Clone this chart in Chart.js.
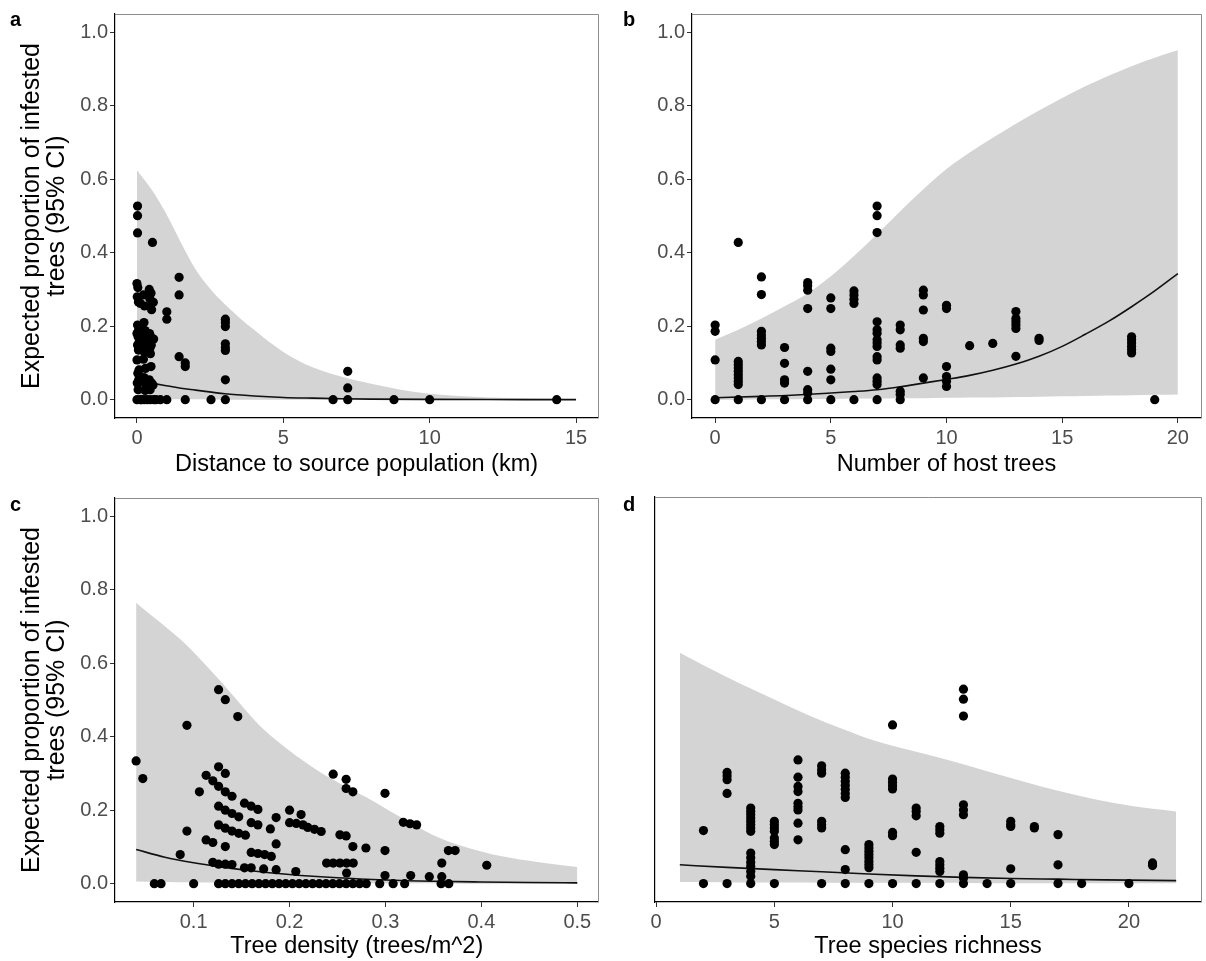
<!DOCTYPE html>
<html><head><meta charset="utf-8">
<script src="https://cdn.jsdelivr.net/npm/chart.js@4/dist/chart.umd.min.js"></script>
<style>
html,body{margin:0;padding:0;background:#fff;overflow:hidden;width:1206px;height:961px;}
canvas{position:absolute;}
</style></head><body>
<canvas id="pa" width="603" height="480" style="left:0;top:0"></canvas>
<canvas id="pb" width="603" height="480" style="left:603px;top:0"></canvas>
<canvas id="pc" width="603" height="477" style="left:0;top:484px"></canvas>
<canvas id="pd" width="603" height="477" style="left:603px;top:484px"></canvas>
<script>
// ---------- shared ----------
const yTicks = [0, 0.2, 0.4, 0.6, 0.8, 1.0];
const yTitle = ['Expected proportion of infested', 'trees (95% CI)'];

// ---------- panel a: distance to source population ----------
const aTicksX = [0, 5, 10, 15];
const aDist = [0.02,0.02,0.02,0.53,
  0.00,0.03,0.01,0.05,0.02,0.06,0.00,0.04,0.08,0.02,0.05,0.00,0.07,0.03,0.06,0.01,0.04,0.00,
  0.12,0.10,0.14,0.11,0.12,
  0.22,0.26,0.24,0.28,0.23,0.27,0.25,0.22,0.29,0.24,0.26,0.28,0.25,
  0.42,0.48,0.44,0.46,0.50,0.43,0.47,0.45,0.49,0.44,0.46,0.48,0.42,0.50,0.45,0.45,
  0.56,0.57,0.55,0.58,
  0.15,0.35,0.65,0.8,1.02,1.65,2.53,3.02,6.7,7.2,8.78,10.0,14.34,
  1.02,1.02,1.44,1.44,1.44,1.65,1.65,3.02,3.02,3.02,3.02,3.02,3.02,3.02,7.2,7.2];
const aProp = [0.527,0.501,0.454,0.428,
  0.316,0.305,0.280,0.266,0.203,0.191,0.180,0.171,0.158,0.149,0.135,0.108,0.081,0.072,0.054,0.045,0.027,0,
  0.262,0.190,0.165,0.050,0,
  0.285,0.255,0.210,0.188,0.170,0.150,0.130,0.110,0.085,0.060,0.045,0.025,0,
  0.300,0.290,0.275,0.255,0.245,0.180,0.171,0.158,0.149,0.140,0.125,0.090,0.054,0.045,0.027,0,
  0.265,0.165,0.040,0,
  0,0,0,0,0,0,0,0,0,0,0,0,0,
  0.239,0.219,0.333,0.285,0.117,0.100,0.090,0.219,0.210,0.199,0.152,0.141,0.134,0.054,0.077,0.032];
const aFitX = [0, 0.5, 1, 1.5, 2, 3, 4, 5, 6, 7, 8, 10, 12, 15];
const aFitY = [0.052, 0.045, 0.038, 0.031, 0.026, 0.016, 0.010, 0.006, 0.004, 0.0025, 0.0015, 0.0006, 0.0002, 0.0001];
const aBandX = [0, 0.5, 1, 1.5, 2, 2.5, 3, 4, 5, 6, 7, 8, 9, 10, 11, 12, 15];
const aBandHi = [0.625, 0.572, 0.506, 0.428, 0.355, 0.302, 0.260, 0.190, 0.130, 0.088, 0.062, 0.043, 0.027, 0.016, 0.010, 0.006, 0.002];
const aBandLo = [0.002, 0.002, 0.001, 0.001, 0.001, 0.001, 0, 0, 0, 0, 0, 0, 0, 0, 0, 0, 0];

// ---------- panel b: number of host trees ----------
const bTicksX = [0, 5, 10, 15, 20];
const bHosts = [0,0,0,0,
  1,1,1,1,1,1,1,1,1,1,
  2,2,2,2,2,2,2,2,
  3,3,3,3,3,
  4,4,4,4,4,4,4,4,
  5,5,5,5,5,5,5,
  6,6,6,6,6,
  7,7,7,7,7,7,7,7,7,7,7,7,7,7,7,
  8,8,8,8,8,8,8,
  9,9,9,9,9,9,
  10,10,10,10,10,10,
  11,12,13,13,13,13,13,13,14,14,
  18,18,18,18,18,18,19];
const bProp = [0.203,0.186,0.108,0,
  0.428,0.104,0.095,0.086,0.077,0.068,0.059,0.050,0.041,0,
  0.334,0.286,0.186,0.176,0.167,0.158,0.149,0,
  0.142,0.099,0.054,0.045,0,
  0.319,0.310,0.298,0.248,0.077,0.027,0.018,0,
  0.277,0.248,0.140,0.131,0.083,0.054,0,
  0.296,0.285,0.273,0.262,0,
  0.527,0.501,0.455,0.212,0.190,0.181,0.163,0.154,0.145,0.117,0.108,0.059,0.050,0.041,0,
  0.203,0.190,0.149,0.140,0.023,0.014,0,
  0.298,0.285,0.244,0.167,0.158,0.059,
  0.257,0.248,0.090,0.063,0.050,0.036,
  0.147,0.153,0.240,0.221,0.212,0.203,0.194,0.118,0.167,0.161,
  0.171,0.163,0.154,0.145,0.136,0.127,0];
const bFitX = [0, 2, 4, 5, 6, 7, 8, 9, 10, 11, 12, 13, 14, 15, 16, 17, 18, 19, 20];
const bFitY = [0.005, 0.009, 0.014, 0.018, 0.022, 0.027, 0.035, 0.045, 0.055, 0.066, 0.080, 0.097, 0.118, 0.145, 0.178, 0.213, 0.253, 0.296, 0.343];
const bBandX = [0, 1, 2, 3, 4, 5, 6, 7, 8, 9, 10, 11, 12, 13, 14, 15, 16, 17, 18, 19, 20];
const bBandHi = [0.163, 0.190, 0.221, 0.254, 0.289, 0.336, 0.391, 0.451, 0.513, 0.573, 0.628, 0.673, 0.713, 0.751, 0.787, 0.821, 0.853, 0.882, 0.908, 0.931, 0.951];
const bBandLo = [0, 0, 0.001, 0.001, 0.002, 0.002, 0.003, 0.003, 0.004, 0.004, 0.005, 0.006, 0.006, 0.007, 0.008, 0.009, 0.010, 0.011, 0.012, 0.013, 0.014];

// ---------- panel c: tree density ----------
const cTicksX = [0.1, 0.2, 0.3, 0.4, 0.5];
const cDens = [0.040,0.047,0.126,0.133,0.146,0.093,
  0.126,0.133,0.113,0.120,0.126,0.133,0.140,0.106,
  0.126,0.133,0.140,0.147,0.153,0.160,0.167,
  0.200,0.212,0.186,0.200,0.207,0.214,0.219,0.226,0.233,
  0.126,0.133,0.140,0.147,0.154,0.160,0.167,0.180,
  0.093,0.113,0.120,0.133,0.186,
  0.086,0.160,0.167,0.174,0.181,
  0.120,0.126,0.133,0.140,0.153,0.160,0.173,0.186,0.2065,
  0.2455,0.259,0.259,0.266,0.2995,
  0.3186,0.3256,0.3325,0.2525,0.259,0.266,0.2796,0.2995,0.3656,0.3726,0.3587,0.4056,
  0.2386,0.2455,0.2525,0.2595,0.2664,0.2595,0.2995,0.3263,0.3457,0.3587,
  0.059,0.066,0.100,0.126,0.133,0.140,0.147,0.154,0.161,0.168,0.175,0.182,0.189,0.196,0.203,0.210,
  0.217,0.224,0.231,0.238,0.245,0.252,0.259,0.266,0.273,0.280,0.294,0.308,0.320,0.358,0.366];
const cProp = [0.334,0.286,0.528,0.501,0.455,0.431,
  0.318,0.300,0.295,0.280,0.265,0.250,0.238,0.250,
  0.211,0.200,0.191,0.182,0.219,0.211,0.202,
  0.200,0.188,0.180,0.166,0.164,0.160,0.153,0.148,0.142,
  0.160,0.151,0.143,0.137,0.132,0.166,0.160,0.149,
  0.143,0.119,0.112,0.101,0.108,
  0.079,0.085,0.082,0.079,0.074,
  0.058,0.053,0.053,0.052,0.043,0.043,0.040,0.038,0.033,
  0.298,0.284,0.259,0.250,0.246,
  0.167,0.163,0.160,0.133,0.130,0.101,0.097,0.090,0.090,0.090,0.056,0.050,
  0.056,0.056,0.056,0.056,0.056,0.029,0.022,0.022,0.019,0.019,
  0,0,0,0,0,0,0,0,0,0,0,0,0,0,0,0,
  0,0,0,0,0,0,0,0,0,0,0,0,0,0,0];
const cFitX = [0.04, 0.07, 0.10, 0.13, 0.16, 0.20, 0.25, 0.30, 0.35, 0.40, 0.45, 0.50];
const cFitY = [0.093, 0.072, 0.057, 0.045, 0.035, 0.025, 0.016, 0.010, 0.0065, 0.0045, 0.003, 0.002];
const cBandX = [0.04, 0.06, 0.085, 0.10, 0.126, 0.15, 0.169, 0.20, 0.23, 0.26, 0.28, 0.315, 0.35, 0.384, 0.42, 0.46, 0.50];
const cBandHi = [0.765, 0.722, 0.668, 0.630, 0.557, 0.485, 0.430, 0.362, 0.307, 0.262, 0.235, 0.182, 0.132, 0.099, 0.075, 0.058, 0.045];
const cBandLo = [0.006, 0.005, 0.004, 0.004, 0.003, 0.003, 0.002, 0.002, 0.002, 0.001, 0.001, 0.001, 0.001, 0, 0, 0, 0];

// ---------- panel d: tree species richness ----------
const dTicksX = [0, 5, 10, 15, 20];
const dRich = [2,2,
  3,3,3,3,3,
  4,4,4,4,4,4,4,4,4,4,4,4,4,4,4,
  5,5,5,5,5,5,5,5,
  6,6,6,6,6,6,6,6,6,
  7,7,7,7,7,7,7,
  8,8,8,8,8,8,8,8,8,8,
  9,9,9,9,9,9,9,9,9,
  10,10,10,10,10,10,10,10,
  11,11,11,11,11,
  12,12,12,12,12,12,12,12,
  13,13,13,13,13,13,13,13,13,
  14,15,15,15,15,15,16,16,17,17,17,18,20,21,21];
const dProp = [0.144,0,
  0.302,0.292,0.282,0.245,0,
  0.205,0.196,0.187,0.178,0.169,0.160,0.151,0.142,0.083,0.070,0.058,0.047,0.033,0.020,0,
  0.169,0.160,0.151,0.142,0.124,0.115,0.106,0,
  0.336,0.289,0.264,0.250,0.218,0.209,0.200,0.164,0.119,
  0.320,0.309,0.300,0.169,0.160,0.151,0,
  0.300,0.289,0.278,0.267,0.256,0.245,0.234,0.092,0.038,0,
  0.106,0.097,0.088,0.079,0.070,0.061,0.052,0.043,0,
  0.431,0.284,0.275,0.266,0.257,0.139,0.130,0,
  0.205,0.196,0.184,0.085,0,
  0.155,0.146,0.137,0.060,0.051,0.042,0.033,0,
  0.528,0.501,0.455,0.214,0.200,0.187,0.024,0.015,0,
  0,0.169,0.160,0.155,0.040,0,0.155,0.151,0.133,0.051,0,0,0,0.056,0.049];
const dFitX = [1, 3, 5, 7, 9, 11, 13, 15, 17, 19, 22];
const dFitY = [0.051, 0.044, 0.038, 0.032, 0.026, 0.021, 0.017, 0.014, 0.012, 0.010, 0.008];
const dBandX = [1, 2, 3.5, 5, 6.35, 8, 9.15, 11, 12.5, 14, 15.5, 17, 18.5, 20, 22];
const dBandHi = [0.627, 0.593, 0.545, 0.500, 0.460, 0.417, 0.390, 0.358, 0.333, 0.305, 0.278, 0.252, 0.230, 0.212, 0.196];
const dBandLo = [0.004, 0.004, 0.003, 0.003, 0.003, 0.002, 0.002, 0.002, 0.002, 0.001, 0.001, 0.001, 0.001, 0.001, 0.001];

// ---------- drawing ----------
const FONT = '"Liberation Sans", Arial, Helvetica, sans-serif';
const zip = (xs, ys) => xs.map((x, i) => ({x: x, y: ys[i]}));

const deco = {
  id: 'deco',
  afterDraw(chart, args, opts) {
    const {ctx, chartArea: ca} = chart;
    ctx.save();
    ctx.strokeStyle = '#8c8c8c';
    ctx.lineWidth = 1;
    ctx.beginPath();
    ctx.moveTo(ca.left, Math.round(ca.top) + 0.5);
    ctx.lineTo(Math.round(ca.right) + 0.5, Math.round(ca.top) + 0.5);
    ctx.lineTo(Math.round(ca.right) + 0.5, ca.bottom);
    ctx.stroke();
    ctx.fillStyle = '#000';
    ctx.font = 'bold 20px ' + FONT;
    ctx.textBaseline = 'middle';
    ctx.textAlign = 'left';
    ctx.fillText(opts.letter, opts.lx, opts.ly);
    ctx.restore();
  }
};

function panel(id, o) {
  new Chart(document.getElementById(id), {
    type: 'scatter',
    data: {datasets: [
      {type: 'line', data: zip(o.bandX, o.bandLo), borderWidth: 0, borderColor: 'rgba(0,0,0,0)', pointRadius: 0, fill: false, order: 5, cubicInterpolationMode: 'monotone'},
      {type: 'line', data: zip(o.bandX, o.bandHi), borderWidth: 0, borderColor: 'rgba(0,0,0,0)', pointRadius: 0, fill: '-1', backgroundColor: '#d4d4d4', order: 4, cubicInterpolationMode: 'monotone'},
      {type: 'line', data: zip(o.fitX, o.fitY), borderColor: '#111', borderWidth: 1.6, pointRadius: 0, fill: false, order: 2, cubicInterpolationMode: 'monotone'},
      {type: 'scatter', data: zip(o.ptX, o.ptY), pointRadius: 4.6, pointHoverRadius: 4.6, backgroundColor: '#000', borderWidth: 0, order: 1}
    ]},
    options: {
      responsive: false, animation: false, devicePixelRatio: 1,
      layout: {padding: {left: 0, top: 13, right: o.padR, bottom: 0}},
      plugins: {legend: {display: false}, tooltip: {enabled: false}, deco: {letter: o.letter, lx: o.lx, ly: o.ly}},
      scales: {
        x: {
          type: 'linear', min: o.xMin, max: o.xMax,
          afterBuildTicks: s => { s.ticks = o.xTicks.map(v => ({value: v})); },
          afterFit: s => { s.height = o.xH; },
          grid: {drawOnChartArea: false, tickLength: 5, tickColor: '#333', tickWidth: 1},
          border: {color: '#000', width: 1.2},
          ticks: {color: '#4d4d4d', font: {family: FONT, size: 20}, padding: 3, maxRotation: 0, autoSkip: false,
                  callback: v => o.xDec ? v.toFixed(o.xDec) : String(v)},
          title: {display: true, text: o.xTitle, color: '#000', font: {family: FONT, size: 23.5, lineHeight: 1.1}, padding: {top: 0, bottom: o.xTitlePad}}
        },
        y: {
          type: 'linear', min: -0.05, max: 1.05,
          afterBuildTicks: s => { s.ticks = yTicks.map(v => ({value: v})); },
          afterFit: s => { s.width = o.yW; },
          grid: {drawOnChartArea: false, drawTicks: o.yLabels, tickLength: 5, tickColor: '#333', tickWidth: 1},
          border: {color: '#000', width: 1.2},
          ticks: {display: o.yLabels, color: '#4d4d4d', font: {family: FONT, size: 20}, padding: 2, autoSkip: false,
                  callback: v => v.toFixed(1)},
          title: {display: o.yTitle, text: yTitle, color: '#000', font: {family: FONT, size: 25, lineHeight: 1.02}, padding: {top: 19, bottom: 0}}
        }
      }
    },
    plugins: [deco]
  });
}

panel('pa', {ptX: aDist, ptY: aProp, fitX: aFitX, fitY: aFitY, bandX: aBandX, bandHi: aBandHi, bandLo: aBandLo,
  xMin: -0.75, xMax: 15.75, xTicks: aTicksX, xDec: 0, xTitle: 'Distance to source population (km)',
  yW: 115, xH: 62, padR: 5, yLabels: true, yTitle: true, xTitlePad: 3, letter: 'a', lx: 10, ly: 20});
panel('pb', {ptX: bHosts, ptY: bProp, fitX: bFitX, fitY: bFitY, bandX: bBandX, bandHi: bBandHi, bandLo: bBandLo,
  xMin: -1, xMax: 21, xTicks: bTicksX, xDec: 0, xTitle: 'Number of host trees',
  yW: 89, xH: 62, padR: 5, yLabels: true, yTitle: false, xTitlePad: 3, letter: 'b', lx: 20, ly: 20});
panel('pc', {ptX: cDens, ptY: cProp, fitX: cFitX, fitY: cFitY, bandX: cBandX, bandHi: cBandHi, bandLo: cBandLo,
  xMin: 0.018, xMax: 0.522, xTicks: cTicksX, xDec: 1, xTitle: 'Tree density (trees/m^2)',
  yW: 115, xH: 59, padR: 4, yLabels: true, yTitle: true, xTitlePad: 2, letter: 'c', lx: 10, ly: 21});
panel('pd', {ptX: dRich, ptY: dProp, fitX: dFitX, fitY: dFitY, bandX: dBandX, bandHi: dBandHi, bandLo: dBandLo,
  xMin: -0.05, xMax: 23.05, xTicks: dTicksX, xDec: 0, xTitle: 'Tree species richness',
  yW: 52, xH: 59, padR: 5, yLabels: false, yTitle: false, xTitlePad: 2, letter: 'd', lx: 20, ly: 21});
</script>
</body></html>
